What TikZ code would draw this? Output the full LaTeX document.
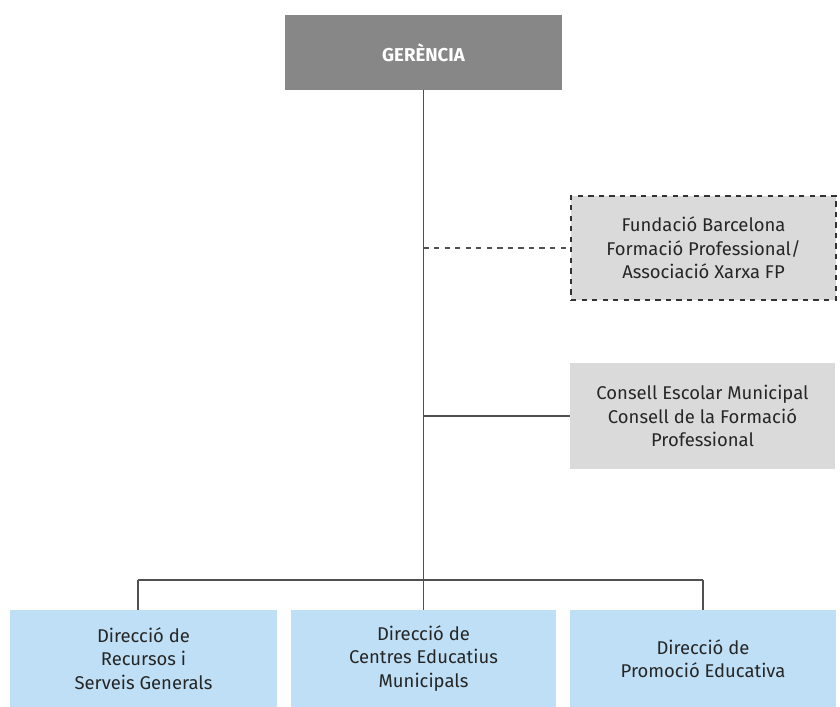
\documentclass[tikz,border=0pt]{standalone}
\usepackage{fontspec}
\setmainfont{Fira Sans}
\usetikzlibrary{positioning}
\definecolor{gerfill}{HTML}{878787}
\definecolor{greyfill}{HTML}{DADADA}
\definecolor{bluefill}{HTML}{BEDFF5}
\definecolor{linecol}{HTML}{505050}
\begin{document}
\begin{tikzpicture}[x=0.02cm, y=-0.02cm,
	box/.style={inner sep=0pt, align=center, font=\fontsize{10.5}{13.4}\selectfont, text=black!85},
	line/.style={draw=linecol, line width=0.6pt}]
	\useasboundingbox (0, 0) rectangle (840, 707);
	\node [box, fill=gerfill, minimum width=277*0.02cm, minimum height=75*0.02cm, text=white, font=\fontsize{10.6}{12}\selectfont\bfseries] (ger) at (423.5, 52.5) {GERÈNCIA};
	\node [box, fill=greyfill, draw=black!80, dashed, line width=0.6pt, minimum width=265*0.02cm, minimum height=104*0.02cm] (fund) at (703.5, 248) {Fundació Barcelona\\Formació Professional/\\Associació Xarxa FP};
	\node [box, fill=greyfill, minimum width=265*0.02cm, minimum height=106*0.02cm] (cem) at (702.5, 416) {Consell Escolar Municipal\\Consell de la Formació\\Professional};
	\node [box, fill=bluefill, minimum width=267*0.02cm, minimum height=97*0.02cm] (d1) at (143.5, 658.5) {Direcció de\\Recursos i\\Serveis Generals};
	\node [box, fill=bluefill, minimum width=265*0.02cm, minimum height=97*0.02cm] (d2) at (423.5, 658.5) {Direcció de\\Centres Educatius\\Municipals};
	\node [box, fill=bluefill, minimum width=266*0.02cm, minimum height=97*0.02cm] (d3) at (703, 658.5) {Direcció de\\Promoció Educativa};
	\coordinate (bus) at (423.5, 580);
	\coordinate (left) at (138, 580);
	\draw [line] (ger.south) to (bus);
	\draw [line, dashed] (ger.south |- fund.west) to (fund.west);
	\draw [line] (ger.south |- cem.west) to (cem.west);
	\draw [line] (left) to (d3.north |- bus);
	\draw [line] (left) to (left |- d1.north);
	\draw [line] (bus) to (d2.north);
	\draw [line] (d3.north |- bus) to (d3.north);
\end{tikzpicture}
\end{document}
